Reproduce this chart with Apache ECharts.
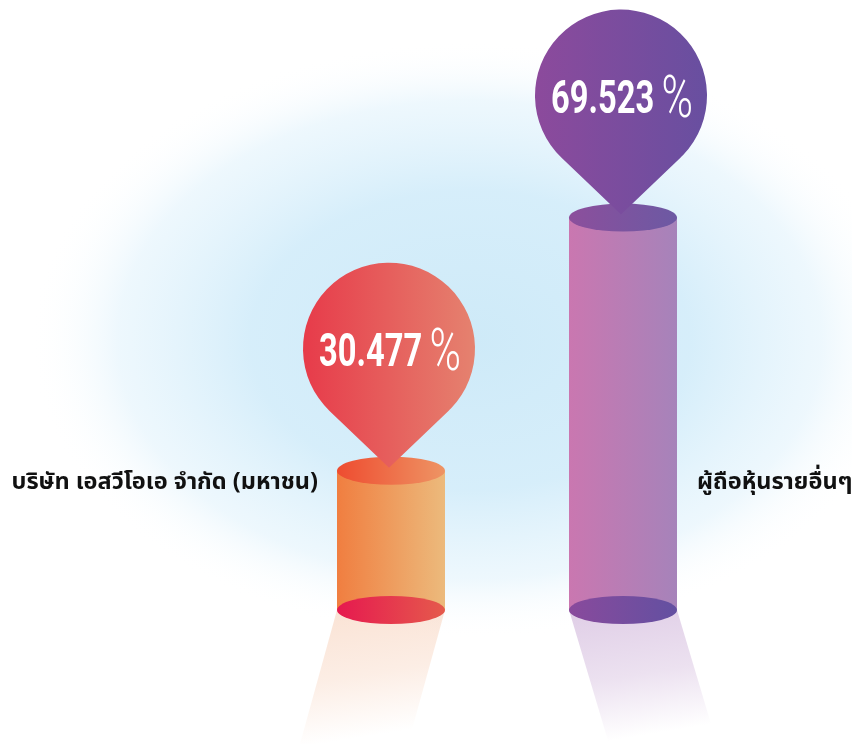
<!DOCTYPE html>
<html>
<head>
    <meta charset="utf-8">
    <script src="https://cdn.jsdelivr.net/npm/echarts@6/dist/echarts.min.js"></script>
    <style>
        html, body { margin: 0; padding: 0; background: #fff; }
    </style>
</head>
<body>
    <div id="main" style="width: 852px;height:744px;"></div>
    <script type="text/javascript">

// chart values
var categories = ['บริษัท เอสวีโอเอ จำกัด (มหาชน)', 'ผู้ถือหุ้นรายอื่นๆ'];
var shares = [30.477, 69.523];
var shareLabels = ['30.477', '69.523'];

// value axis: the cylinders stand on the axis minimum
var AXIS_MIN = 9;
var AXIS_MAX = 100;

// looks per bar (kept apart from the data)
var looks = [
    {
        body: ['#F07E40', '#ECBA7C'],
        top: ['#EE4C30', '#EE9464'],
        bottom: ['#E6194F', '#E55A4C'],
        pin: ['#E73B4A', '#E5826F'],
        shadow: '240,165,120',
        shadowAlpha: 0.32,
        lean: -37
    },
    {
        body: ['#CA77B0', '#A683BA'],
        top: ['#8C4F9C', '#6C59A3'],
        bottom: ['#894A9C', '#6350A1'],
        pin: ['#8C4A9C', '#684FA0'],
        shadow: '185,145,200',
        shadowAlpha: 0.45,
        lean: 40
    }
];

var RX = 54, RY = 14;       // cylinder ellipse radii
var PIN_R = 86, PIN_TIP = 119;
var LABEL_Y = 484;
var NUM_FONT = "Roboto, 'Noto Sans', sans-serif";
var THAI_FONT = "'Noto Sans Thai', 'Noto Sans', 'DejaVu Sans', sans-serif";

function hGrad(c) {
    return new echarts.graphic.LinearGradient(0, 0, 1, 0, [
        { offset: 0, color: c[0] }, { offset: 1, color: c[1] }
    ]);
}
function ellipsePath(x, y, rx, ry) {
    return 'M' + (x - rx) + ' ' + y +
        ' A' + rx + ' ' + ry + ' 0 1 0 ' + (x + rx) + ' ' + y +
        ' A' + rx + ' ' + ry + ' 0 1 0 ' + (x - rx) + ' ' + y + ' Z';
}

function renderItem(params, api) {
    var i = params.dataIndex;
    var look = looks[i];
    var top = api.coord([api.value(0), api.value(1)]);
    var base = api.coord([api.value(0), AXIS_MIN]);
    var x = top[0], yTop = top[1], yBase = base[1];
    var chartH = api.getHeight();

    // pin: circle plus two tangent lines meeting at the tip
    var tipX = x - 2, tipY = yTop - 3;
    var cx = tipX, cy = tipY - PIN_TIP;
    var phi = Math.acos(PIN_R / PIN_TIP);
    var lx = cx - PIN_R * Math.sin(phi), rx = cx + PIN_R * Math.sin(phi);
    var py = cy + PIN_R * Math.cos(phi);
    var pinPath = 'M' + tipX + ' ' + tipY + ' L' + lx + ' ' + py +
        ' A' + PIN_R + ' ' + PIN_R + ' 0 1 1 ' + rx + ' ' + py + ' Z';

    var label = i === 0
        ? { type: 'text', x: x - RX - 19, y: LABEL_Y,
            style: { text: categories[i], align: 'right', verticalAlign: 'middle',
                     fill: '#111', font: 'bold 23.5px ' + THAI_FONT } }
        : { type: 'text', x: x + RX + 20, y: LABEL_Y,
            style: { text: categories[i], align: 'left', verticalAlign: 'middle',
                     fill: '#111', font: 'bold 23.5px ' + THAI_FONT } };

    return {
        type: 'group',
        children: [
            {
                type: 'polygon',
                shape: { points: [
                    [x - RX, yBase], [x + RX, yBase],
                    [x + RX + look.lean, chartH], [x - RX + look.lean, chartH]
                ] },
                style: {
                    fill: new echarts.graphic.LinearGradient(0, 0, 0.15, 1, [
                        { offset: 0, color: 'rgba(' + look.shadow + ',' + look.shadowAlpha + ')' },
                        { offset: 0.55, color: 'rgba(' + look.shadow + ',' + (look.shadowAlpha * 0.6) + ')' },
                        { offset: 1, color: 'rgba(' + look.shadow + ',0)' }
                    ])
                }
            },
            {
                type: 'rect',
                shape: { x: x - RX, y: yTop, width: RX * 2, height: yBase - yTop },
                style: { fill: hGrad(look.body) }
            },
            {
                type: 'path',
                shape: { pathData: ellipsePath(x, yBase, RX, RY) },
                style: { fill: hGrad(look.bottom) }
            },
            {
                type: 'path',
                shape: { pathData: ellipsePath(x, yTop, RX, RY) },
                style: { fill: hGrad(look.top) }
            },
            {
                type: 'path',
                shape: { pathData: pinPath },
                style: { fill: hGrad(look.pin) }
            },
            {
                type: 'text',
                x: cx + 1, y: cy + 6,
                scaleX: 0.71,
                style: {
                    text: '{n|' + shareLabels[i] + '}{p|%}',
                    align: 'center', verticalAlign: 'middle',
                    rich: {
                        n: { fontSize: 46, fontWeight: 'bold', fontFamily: NUM_FONT, fill: '#fff', color: '#fff' },
                        p: { fontSize: 60, fontWeight: 300, fontFamily: NUM_FONT, fill: '#fff', color: '#fff',
                             padding: [0, 0, 0, 10] }
                    }
                }
            },
            label
        ]
    };
}

var option = {
    animation: false,
    backgroundColor: '#ffffff',
    graphic: [{
        type: 'circle',
        z: -10,
        x: 470, y: 340,
        scaleY: 0.68,
        shape: { cx: 0, cy: 0, r: 440 },
        style: {
            fill: new echarts.graphic.RadialGradient(0.5, 0.5, 0.5, [
                { offset: 0, color: 'rgba(206,234,248,1)' },
                { offset: 0.5, color: 'rgba(212,237,250,0.95)' },
                { offset: 0.8, color: 'rgba(226,243,252,0.6)' },
                { offset: 1, color: 'rgba(255,255,255,0)' }
            ])
        }
    }],
    grid: { left: 275, width: 464, top: 20, bottom: 134 },
    xAxis: {
        type: 'category',
        data: categories,
        show: false
    },
    yAxis: {
        type: 'value',
        min: AXIS_MIN,
        max: AXIS_MAX,
        show: false
    },
    series: [{
        type: 'custom',
        renderItem: renderItem,
        data: shares.map(function (v, i) { return [i, v]; })
    }]
};

var myChart = echarts.init(document.getElementById('main'));
myChart.setOption(option);

    </script>
</body>
</html>
